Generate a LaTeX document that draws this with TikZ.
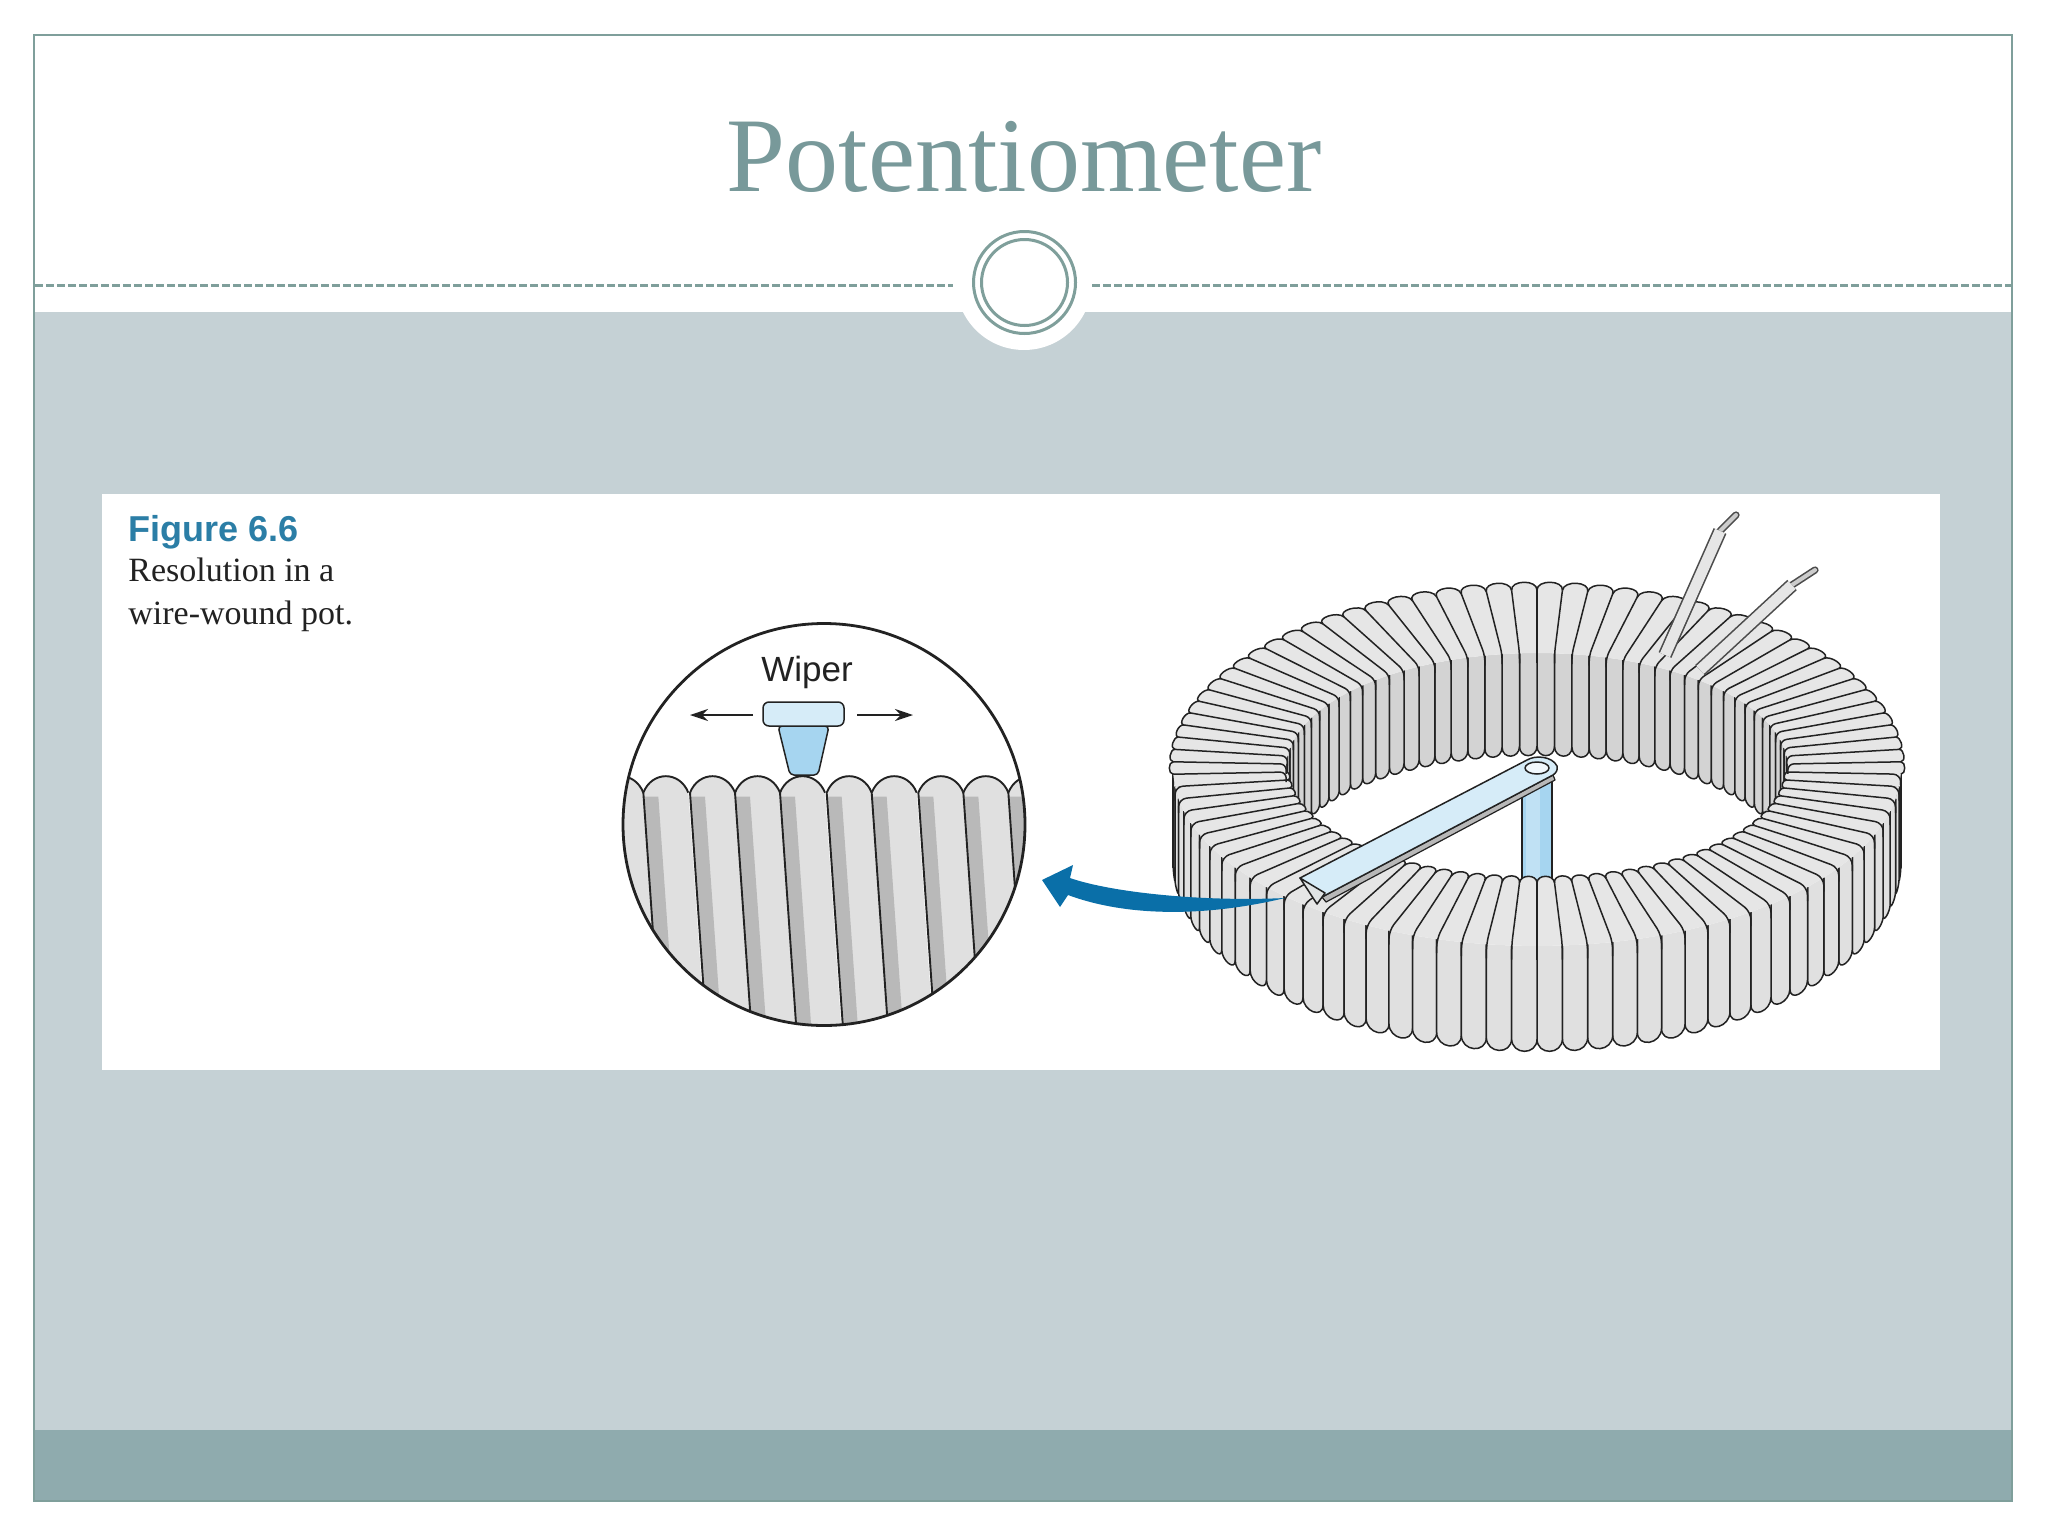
\documentclass[tikz,border=0pt]{standalone}
\usepackage{fontspec}
\setmainfont{Liberation Serif}
\newfontfamily\sansf{Liberation Sans}
\usetikzlibrary{arrows.meta}
\definecolor{framec}{HTML}{7F9F9B}
\definecolor{titlec}{HTML}{78999A}
\definecolor{panelc}{HTML}{C5D1D5}
\definecolor{footc}{HTML}{8FABAE}
\definecolor{figblue}{HTML}{2B7EA6}
\definecolor{arrowblue}{HTML}{0A6FA8}
\definecolor{palec}{HTML}{D6ECF8}
\definecolor{midblue}{HTML}{A6D5F0}
\definecolor{topc}{HTML}{E6E6E6}
\definecolor{wallc}{HTML}{E0E0E0}
\definecolor{backc}{HTML}{D3D3D3}
\definecolor{bandc}{HTML}{B9B9B9}
\definecolor{inkc}{HTML}{222222}
\tikzset{
  ringline/.style={draw=framec,line width=1.5pt},
  dashline/.style={draw=framec,line width=1.2pt,dash pattern=on 4pt off 1.5pt},
  coilline/.style={draw=inkc,line width=0.75pt,line join=round},
  wireout/.style={draw=black!70,line cap=butt},
  wirein/.style={draw=topc,line cap=butt},
  moveline/.style={draw=inkc,line width=0.9pt,-{Stealth[length=9pt,width=6pt]}},
}
\newcommand\cx{1537}\newcommand\cy{768}\newcommand\hh{93}
\newcommand\Ra{364}\newcommand\Rb{178}\newcommand\ia{251}\newcommand\ib{115}
\newcommand\stripPts[2]{%
  \pgfmathsetmacro\pax{\cx+\ia*cos(#1)}\pgfmathsetmacro\pay{\cy+\ib*sin(#1)}%
  \pgfmathsetmacro\pbx{\cx+\ia*cos(#2)}\pgfmathsetmacro\pby{\cy+\ib*sin(#2)}%
  \pgfmathsetmacro\qax{\cx+\Ra*cos(#1)}\pgfmathsetmacro\qay{\cy+\Rb*sin(#1)}%
  \pgfmathsetmacro\qbx{\cx+\Ra*cos(#2)}\pgfmathsetmacro\qby{\cy+\Rb*sin(#2)}%
  \pgfmathsetmacro\wq{0.42*veclen(\qbx-\qax,\qby-\qay)}%
  \pgfmathsetmacro\wp{0.5*veclen(\pbx-\pax,\pby-\pay)}%
  \pgfmathsetmacro\lena{veclen(\qax-\pax,\qay-\pay)}%
  \pgfmathsetmacro\lenb{veclen(\qbx-\pbx,\qby-\pby)}%
  \pgfmathsetmacro\uax{(\qax-\pax)/\lena}\pgfmathsetmacro\uay{(\qay-\pay)/\lena}%
  \pgfmathsetmacro\ubx{(\qbx-\pbx)/\lenb}\pgfmathsetmacro\uby{(\qby-\pby)/\lenb}%
  \pgfmathsetmacro\qca{\qax+\wq*\uax}\pgfmathsetmacro\qda{\qay+\wq*\uay}%
  \pgfmathsetmacro\qcb{\qbx+\wq*\ubx}\pgfmathsetmacro\qdb{\qby+\wq*\uby}%
  \pgfmathsetmacro\pca{\pax-\wp*\uax}\pgfmathsetmacro\pda{\pay-\wp*\uay}%
  \pgfmathsetmacro\pcb{\pbx-\wp*\ubx}\pgfmathsetmacro\pdb{\pby-\wp*\uby}%
}
% outer wall strip
\newcommand\wallStrip[2]{%
  \pgfmathsetmacro\xa{\cx+\Ra*cos(#1)}\pgfmathsetmacro\ya{\cy+\Rb*sin(#1)}%
  \pgfmathsetmacro\xb{\cx+\Ra*cos(#2)}\pgfmathsetmacro\yb{\cy+\Rb*sin(#2)}%
  \pgfmathsetmacro\bul{4+0.5*abs(\xb-\xa)}%
  \pgfmathsetmacro\ye{\ya+\hh}\pgfmathsetmacro\yf{\yb+\hh}%
  \pgfmathsetmacro\yg{\ye+\bul}\pgfmathsetmacro\yi{\yf+\bul}%
  \fill[wallc] (\xa,\ya) -- (\xa,\ye) .. controls (\xa,\yg) and (\xb,\yi) .. (\xb,\yf) -- (\xb,\yb) -- cycle;%
  \draw[coilline] (\xa,\ya) -- (\xa,\ye) .. controls (\xa,\yg) and (\xb,\yi) .. (\xb,\yf) -- (\xb,\yb);%
}
% inner wall strip
\newcommand\innerStrip[2]{%
  \pgfmathsetmacro\xa{\cx+\ia*cos(#1)}\pgfmathsetmacro\ya{\cy+\ib*sin(#1)}%
  \pgfmathsetmacro\xb{\cx+\ia*cos(#2)}\pgfmathsetmacro\yb{\cy+\ib*sin(#2)}%
  \pgfmathsetmacro\bul{3+0.55*abs(\xb-\xa)}%
  \pgfmathsetmacro\ye{\ya+\hh}\pgfmathsetmacro\yf{\yb+\hh}%
  \pgfmathsetmacro\yg{\ye+\bul}\pgfmathsetmacro\yi{\yf+\bul}%
  \fill[backc] (\xa,\ya) -- (\xa,\ye) .. controls (\xa,\yg) and (\xb,\yi) .. (\xb,\yf) -- (\xb,\yb) -- cycle;%
  \draw[coilline] (\xa,\ya) -- (\xa,\ye) .. controls (\xa,\yg) and (\xb,\yi) .. (\xb,\yf) -- (\xb,\yb);%
}
\begin{document}
\begin{tikzpicture}[x=0.5pt,y=-0.5pt]
\useasboundingbox (0,0) rectangle (2048,1536);
\fill[white] (0,0) rectangle (2048,1536);
% slide
\fill[panelc] (34,312) rectangle (2012,1430);
\fill[footc] (34,1430) rectangle (2012,1501);
\draw[draw=framec,line width=1.1pt] (34,35) rectangle (2012,1501);
\coordinate (dl0) at (35,285.5);\coordinate (dl1) at (953,285.5);
\coordinate (dr0) at (1092,285.5);\coordinate (dr1) at (2012,285.5);
\draw[dashline] (dl0) -- (dl1);
\draw[dashline] (dr0) -- (dr1);
\fill[white] (1024,282) circle[radius=68];
\draw[ringline] (1024.5,282.5) circle[radius=51];
\draw[ringline] (1024.5,282.5) circle[radius=43];
\node[anchor=base,text=titlec,font=\fontsize{53}{60}\selectfont,inner sep=0pt] (title) at (1024,191) {Potentiometer};
% figure sheet
\fill[white] (102,494) rectangle (1940,1070);
\node[anchor=base west,inner sep=0pt,text=figblue,font=\sansf\bfseries\fontsize{18}{20}\selectfont] (figlabel) at (128,541) {Figure 6.6};
\node[anchor=base west,inner sep=0pt,text=inkc,font=\fontsize{17}{20}\selectfont] (capa) at (128,581) {Resolution in a};
\node[anchor=base west,inner sep=0pt,text=inkc,font=\fontsize{17}{20}\selectfont] (capb) at (128,624) {wire-wound pot.};
% magnified circle
\begin{scope}
\clip (824,824.5) circle[radius=201];
\begin{scope}[shift={(600,600)},x=0.1666667pt,y=-0.1666667pt]
\foreach \u in {-5,130,270,405,540,680,815,955,1090,1225}{
  \pgfmathsetmacro\v{\u+135}
  \pgfmathsetmacro\ub{\u+50}\pgfmathsetmacro\vb{\v+50}
  \pgfmathsetmacro\ua{\u+45}\pgfmathsetmacro\uc{\u+95}
  \pgfmathsetmacro\ca{\u+26}\pgfmathsetmacro\cb{\v-26}
  \fill[wallc] (\u,578) .. controls (\ca,512) and (\cb,512) .. (\v,578) -- (\vb,1300) -- (\ub,1300) -- cycle;
  \fill[bandc] (\u,590) -- (\ua,590) -- (\uc,1300) -- (\ub,1300) -- cycle;
  \draw[coilline,line width=0.95pt] (\ub,1300) -- (\u,578) .. controls (\ca,512) and (\cb,512) .. (\v,578);
}
\end{scope}
\end{scope}
\draw[inkc,line width=1.4pt] (824,824.5) circle[radius=201];
\node[anchor=base,inner sep=0pt,text=inkc,font=\sansf\fontsize{17.5}{20}\selectfont] (wiperlabel) at (807,681) {Wiper};
\coordinate (la0) at (753,715);\coordinate (la1) at (690,715);
\coordinate (ra0) at (857,715);\coordinate (ra1) at (913,715);
\draw[moveline] (la0) -- (la1);
\draw[moveline] (ra0) -- (ra1);
\filldraw[coilline,fill=midblue,rounded corners=2pt] (778,726) -- (829,726) -- (818,775) -- (790,775) -- cycle;
\filldraw[coilline,fill=palec,rounded corners=3pt] (763,702) rectangle (844,726);
% toroid: back inner wall
\foreach \t in {270,274,...,362}{\pgfmathsetmacro\tn{\t+4}\innerStrip{\t}{\tn}}
\foreach \t in {270,266,...,182}{\pgfmathsetmacro\tn{\t-4}\innerStrip{\t}{\tn}}
% outer wall
\foreach \t in {-10,-6,...,86}{\pgfmathsetmacro\tn{\t+4}\wallStrip{\t}{\tn}}
\foreach \t in {190,186,...,94}{\pgfmathsetmacro\tn{\t-4}\wallStrip{\t}{\tn}}
% post
\coordinate (pl0) at (1522,778);\coordinate (pl1) at (1522,892);
\coordinate (pr0) at (1552,778);\coordinate (pr1) at (1552,892);
\fill[midblue] (pl0) rectangle (pr1);
\fill[palec,opacity=0.55] (1526,778) rectangle (1540,892);
\draw[coilline,line width=1pt] (pl0) -- (pl1);
\draw[coilline,line width=1pt] (pr0) -- (pr1);
% top surface fills
\foreach \t in {178,182,...,358}{
  \pgfmathsetmacro\tn{\t+4}\stripPts{\t}{\tn}
  \fill[topc] (\pax,\pay) -- (\qax,\qay) .. controls (\qca,\qda) and (\qcb,\qdb) .. (\qbx,\qby) -- (\pbx,\pby) -- cycle;
}
\foreach \t in {2,6,...,174}{
  \pgfmathsetmacro\tn{\t+4}\stripPts{\t}{\tn}
  \fill[topc] (\qax,\qay) -- (\pax,\pay) .. controls (\pca,\pda) and (\pcb,\pdb) .. (\pbx,\pby) -- (\qbx,\qby) -- cycle;
}
% top surface lines
\foreach \t in {178,182,...,358}{
  \pgfmathsetmacro\tn{\t+4}\stripPts{\t}{\tn}
  \pgfmathsetmacro\yd{\pay+10}
  \draw[coilline,rounded corners=3pt] (\qax,\qay) -- (\pax,\pay) -- (\pax,\yd);
  \draw[coilline] (\qax,\qay) .. controls (\qca,\qda) and (\qcb,\qdb) .. (\qbx,\qby);
}
\foreach \t in {2,6,...,174}{
  \pgfmathsetmacro\tn{\t+4}\stripPts{\t}{\tn}
  \pgfmathsetmacro\yd{\qay+14}
  \draw[coilline,rounded corners=4pt] (\pax,\pay) -- (\qax,\qay) -- (\qax,\yd);
  \draw[coilline] (\pax,\pay) .. controls (\pca,\pda) and (\pcb,\pdb) .. (\pbx,\pby);
}
% leads
\coordinate (wa0) at (1665,655);\coordinate (wa1) at (1720,531);\coordinate (wa2) at (1736,515);
\coordinate (wb0) at (1700,670);\coordinate (wb1) at (1792,585);\coordinate (wb2) at (1815,570);
\draw[wireout,line width=3.6pt,line cap=round] (wa1) -- (wa2);
\draw[wirein,line width=2pt,line cap=round,draw=black!20] (wa1) -- (wa2);
\draw[wireout,line width=7pt] (wa0) -- (wa1);
\draw[wirein,line width=5.4pt] (wa0) -- (wa1);
\draw[wireout,line width=3.6pt,line cap=round] (wb1) -- (wb2);
\draw[wirein,line width=2pt,line cap=round,draw=black!20] (wb1) -- (wb2);
\draw[wireout,line width=7pt] (wb0) -- (wb1);
\draw[wirein,line width=5.4pt] (wb0) -- (wb1);
% wiper arm
\filldraw[coilline,line width=0.6pt,fill=black!28] (1322,897) -- (1553,775) -- (1555,780) -- (1326,902) -- cycle;
\filldraw[coilline,fill=palec] (1300,878) -- (1527,760) .. controls (1535,755) and (1552,756) .. (1557,766) .. controls (1558,770) and (1556,773) .. (1553,775) -- (1322,897) -- cycle;
\filldraw[coilline,fill=palec!60!black!25] (1300,878) -- (1325,893) -- (1317,904) -- cycle;
\filldraw[coilline,fill=palec!35] (1537,768) ellipse[x radius=12,y radius=6];
% blue arrow
\fill[arrowblue] (1042,880) -- (1073,865) -- (1070,878) .. controls (1110,892) and (1200,902) .. (1285,898) .. controls (1210,916) and (1130,918) .. (1068,895) -- (1060,907) -- cycle;
\end{tikzpicture}
\end{document}
